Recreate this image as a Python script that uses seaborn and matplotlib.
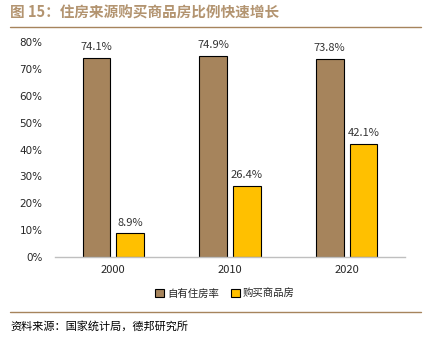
import matplotlib
matplotlib.use("Agg")
import matplotlib.pyplot as plt
import seaborn as sns
import pandas as pd
from matplotlib.lines import Line2D
from matplotlib.patches import Patch

years = ["2000", "2010", "2020"]
own_rate = [74.1, 74.9, 73.8]
bought = [8.9, 26.4, 42.1]
series_names = ["自有住房率", "购买商品房"]
yticks = [0, 10, 20, 30, 40, 50, 60, 70, 80]

sns.set_theme(style="white")
plt.rcParams['font.family'] = ['Noto Sans CJK SC', 'DejaVu Sans']

df = pd.DataFrame({
    "year": years * 2,
    "value": own_rate + bought,
    "series": [series_names[0]] * 3 + [series_names[1]] * 3,
})

colors = ["#A6845C", "#FFC000"]
fig = plt.figure(figsize=(4.3, 3.45), dpi=100)
ax = fig.add_axes([55/430, 1-257/345, 350/430, 215/345])
sns.barplot(data=df, x="year", y="value", hue="series", palette=colors, saturation=1,
            width=0.58, gap=0.18, edgecolor="black", linewidth=0.8, ax=ax, legend=False)
ax.set_xlim(-0.5, 2.5)
ax.set_ylim(0, 80)
ax.set_yticks(yticks)
ax.set_yticklabels([f"{v}%" for v in yticks], fontsize=7.5, family=['DejaVu Sans'])
ax.tick_params(axis='x', labelsize=8, length=0, pad=6)
ax.tick_params(axis='y', length=0, pad=9)
ax.set_xlabel("")
ax.set_ylabel("")
for s in ["top", "right", "left"]:
    ax.spines[s].set_visible(False)
ax.spines["bottom"].set_color("#BFBFBF")
ax.spines["bottom"].set_linewidth(1)

for cont in ax.containers:
    ax.bar_label(cont, labels=[f"{v:.1f}%" for v in cont.datavalues], padding=4, fontsize=8, color="#333333")

handles = [Patch(facecolor=c, edgecolor="black", linewidth=0.8) for c in colors]
fig.legend(handles, series_names, loc="center", bbox_to_anchor=(225/430, 1-294/345), ncol=2,
           frameon=False, fontsize=7.5, handlelength=0.8, handleheight=0.8, handletextpad=0.3, columnspacing=1.2)

fig.text(10/430, 1-13/345, "图 15：住房来源购买商品房比例快速增长", fontsize=10.5, fontweight="bold",
         color="#B39470", va="center", ha="left")
fig.add_artist(Line2D([10/430, 421/430], [1-27/345, 1-27/345], color="#A6845C", linewidth=1))
fig.add_artist(Line2D([10/430, 421/430], [1-312/345, 1-312/345], color="#A6845C", linewidth=1))
fig.text(10/430, 1-326/345, "资料来源：国家统计局，德邦研究所", fontsize=8, color="black", va="center", ha="left")

fig.savefig("out.png", dpi=100)
